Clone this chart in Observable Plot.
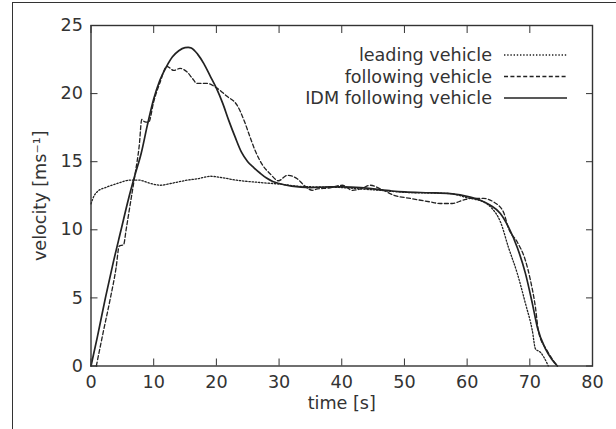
<!DOCTYPE html>
<html>
<head>
<meta charset="utf-8">
<script src="https://cdn.jsdelivr.net/npm/d3@7"></script>
<script src="https://cdn.jsdelivr.net/npm/@observablehq/plot@0.6"></script>
<style>
  body { margin: 0; background: #fff; }
  #wrap { position: relative; width: 616px; height: 429px; overflow: hidden; }
  #box { position: absolute; left: 12px; top: 2px; width: 640px; height: 460px;
         border-top: 1.5px solid #333; border-left: 1.5px solid #333; pointer-events: none; }
</style>
</head>
<body>
<div id="wrap"><div id="box"></div></div>
<script>
// Measured velocity of the leading vehicle
const leadingTime = [0, 0.5, 1, 2.6, 4.2, 6.3, 7.6, 9.5, 11.1, 12.7, 15.3, 17, 19.1, 20.7, 23.3, 27, 30.2, 33, 36, 40, 43, 46, 50, 54, 57.3, 60, 62.6, 64, 65.3, 66.6, 68, 69.3, 70.4, 70.9, 71.7, 72.8, 72.95];
const leadingVelocity = [11.9, 12.5, 12.8, 13.15, 13.4, 13.65, 13.65, 13.4, 13.27, 13.4, 13.64, 13.75, 13.93, 13.84, 13.64, 13.47, 13.35, 13.2, 13.15, 13.1, 13.0, 12.9, 12.75, 12.7, 12.66, 12.35, 12.05, 11.55, 10.6, 8.7, 6.8, 4.6, 2.6, 1.26, 1.0, 0.15, 0];

// Measured velocity of the following vehicle
const followingTime = [0.85, 2, 3.1, 4, 4.5, 5.2, 5.6, 6.3, 7, 7.7, 8.1, 8.5, 9.2, 10, 11, 12.1, 13.2, 14.2, 15.3, 16.2, 16.9, 18.5, 20.1, 21.7, 23.3, 24.4, 25.3, 26.2, 27.3, 28.6, 29.9, 31.3, 32.9, 33.9, 35.3, 36.1, 37.9, 40.1, 41.7, 43, 44.6, 46.2, 48.3, 51, 54.1, 55.7, 57.6, 59.5, 60.5, 62.6, 64.2, 65.8, 66.6, 68, 69.3, 70.1, 70.9, 71.4, 72.8, 74.4];
const followingVelocity = [0, 2.6, 5, 7.2, 8.8, 8.9, 10.0, 12.0, 14.0, 16.2, 18.1, 17.95, 17.9, 19.4, 20.8, 22.0, 21.7, 21.85, 21.6, 21.1, 20.75, 20.75, 20.4, 19.8, 19.15, 18.05, 16.9, 15.8, 14.8, 14.1, 13.6, 14.0, 13.75, 13.3, 12.9, 13.0, 13.07, 13.27, 12.9, 13.0, 13.27, 13.0, 12.54, 12.3, 12.05, 11.93, 11.93, 12.2, 12.3, 12.3, 12.05, 11.3, 10.1, 9.1, 7.75, 6.3, 4.3, 2.5, 1.1, 0];

// Simulated following vehicle (Intelligent Driver Model)
const idmTime = [0, 1, 2.3, 3.5, 4.8, 6, 7, 8, 9, 10, 11, 12, 13, 14, 15, 15.5, 16, 17, 18, 19, 20, 21, 22, 23, 24, 25, 26, 27, 28, 29, 30, 32, 35, 38, 40, 43, 45, 48, 50, 54, 57.3, 60.5, 62.2, 63.7, 65.3, 66.6, 68, 69.3, 70.4, 71.2, 72.5, 73.5, 74.4];
const idmVelocity = [0, 2.1, 5, 7.5, 10, 12.3, 14.0, 15.6, 17.7, 19.6, 21.0, 21.95, 22.7, 23.15, 23.38, 23.4, 23.35, 22.9, 22.2, 21.3, 20.4, 19.3, 18.0, 16.8, 15.7, 15.0, 14.55, 14.15, 13.8, 13.55, 13.4, 13.2, 13.1, 13.15, 13.15, 13.1, 13.0, 12.85, 12.78, 12.72, 12.66, 12.4, 12.15, 11.8, 11.2, 10.2, 8.7, 6.8, 4.6, 2.85, 1.26, 0.5, 0];

const xTicks = [0, 10, 20, 30, 40, 50, 60, 70, 80];
const yTicks = [0, 5, 10, 15, 20, 25];

const seriesNames = ["leading vehicle", "following vehicle", "IDM following vehicle"];
const seriesDash = ["1.4,1.8", "4,2.4", null];
const seriesWidth = [1.3, 1.3, 1.7];

const toRows = (ts, vs) => ts.map((t, i) => ({t, v: vs[i]}));
const leading = toRows(leadingTime, leadingVelocity);
const following = toRows(followingTime, followingVelocity);
const idm = toRows(idmTime, idmVelocity);

const ink = "#222";
const textInk = "#333";
const font = "DejaVu Sans";
const fontPx = 17.6;

const noText = () => "";

const chart = Plot.plot({
  width: 616,
  height: 429,
  marginLeft: 90.5,
  marginRight: 24,
  marginTop: 25,
  marginBottom: 63.5,
  style: {fontFamily: font, fontSize: fontPx + "px", color: ink, background: "transparent", overflow: "visible"},
  x: {domain: [0, 80]},
  y: {domain: [0, 25]},
  marks: [
    Plot.line(leading, {x: "t", y: "v", stroke: ink, strokeWidth: seriesWidth[0], strokeDasharray: seriesDash[0], curve: "monotone-x"}),
    Plot.line(following, {x: "t", y: "v", stroke: ink, strokeWidth: seriesWidth[1], strokeDasharray: seriesDash[1], curve: "monotone-x"}),
    Plot.line(idm, {x: "t", y: "v", stroke: ink, strokeWidth: seriesWidth[2], curve: "monotone-x"}),
    Plot.frame({stroke: "#333", strokeWidth: 1.4}),
    // inward ticks on all four sides
    Plot.axisX({anchor: "bottom", ticks: xTicks, tickSize: 7, dy: -7, tickFormat: noText, label: null, stroke: "#333"}),
    Plot.axisX({anchor: "top", ticks: xTicks, tickSize: 7, dy: 7, tickFormat: noText, label: null, stroke: "#333"}),
    Plot.axisY({anchor: "left", ticks: yTicks, tickSize: 7, dx: 7, tickFormat: noText, label: null, stroke: "#333"}),
    Plot.axisY({anchor: "right", ticks: yTicks, tickSize: 7, dx: -7, tickFormat: noText, label: null, stroke: "#333"}),
    // tick labels
    Plot.axisX({anchor: "bottom", ticks: xTicks, tickSize: 0, tickPadding: 9, label: null, fill: textInk}),
    Plot.axisY({anchor: "left", ticks: yTicks, tickSize: 0, tickPadding: 8, label: null, fill: textInk}),
    // axis titles
    Plot.text(["time [s]"], {frameAnchor: "bottom", textAnchor: "middle", dy: 43, fill: textInk, fontSize: fontPx}),
    Plot.text(["velocity [ms⁻¹]"], {frameAnchor: "left", textAnchor: "middle", dx: -51, rotate: -90, fill: textInk, fontSize: fontPx})
  ]
});

document.getElementById("wrap").prepend(chart);

// key in the upper right corner of the panel
const svg = d3.select(chart);
const key = svg.append("g").attr("font-family", font).attr("font-size", fontPx).attr("fill", textInk);
const rowY = [55, 76.5, 98];
seriesNames.forEach((name, i) => {
  key.append("text")
    .attr("x", 492).attr("y", rowY[i]).attr("dy", "0.35em")
    .attr("text-anchor", "end").text(name);
  key.append("line")
    .attr("x1", 504).attr("x2", 567).attr("y1", rowY[i]).attr("y2", rowY[i])
    .attr("stroke", ink).attr("stroke-width", seriesWidth[i])
    .attr("stroke-dasharray", seriesDash[i]);
});
</script>
</body>
</html>
